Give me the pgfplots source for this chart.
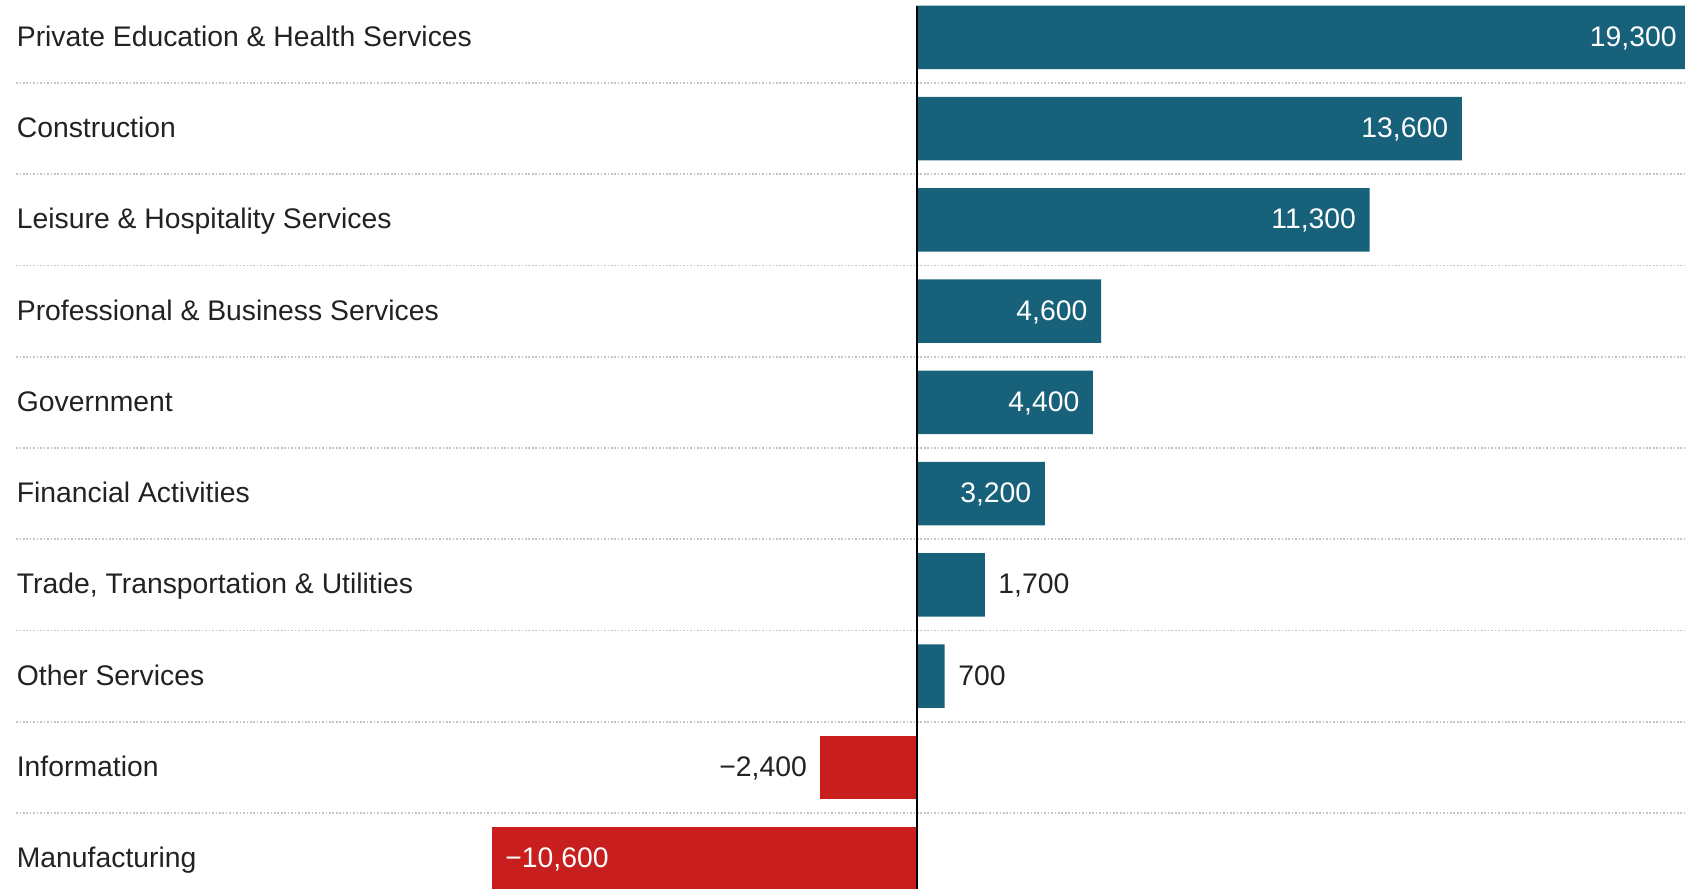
\documentclass[border=0pt]{standalone}
\usepackage{fontspec}
\setmainfont{Liberation Sans}
\usepackage{pgfplots}
\pgfplotsset{compat=1.18}
\usepackage{xcolor}

\definecolor{barblue}{RGB}{24,97,122}
\definecolor{barred}{RGB}{200,30,30}
\definecolor{txt}{RGB}{34,34,34}
\definecolor{sep}{RGB}{195,195,195}

\begin{document}
\begin{tikzpicture}
\useasboundingbox (-1.5mm,0) rectangle (155.3mm,82.7mm);
\begin{axis}[
    at={(0,0)}, anchor=south west,
    scale only axis,
    width=155.3mm, height=82.7mm,
    xmin=-22466, xmax=19170,
    ymin=-0.41, ymax=9.33,
    y dir=reverse,
    xbar, bar width=5.9mm, bar shift=0pt,
    axis line style={draw=none},
    tick style={draw=none},
    major tick length=0pt, minor tick length=0pt,
    xtick=\empty,
    ytick={0,...,9},
    yticklabels={Private Education \& Health Services, Construction,
        Leisure \& Hospitality Services, Professional \& Business Services,
        Government, Financial Activities, {Trade, Transportation \& Utilities},
        Other Services, Information, Manufacturing},
    yticklabel style={anchor=base west, yshift=-2.4pt, inner sep=0pt,
        font=\fontsize{7.5}{9}\selectfont, text=txt},
    minor ytick={0.5,1.5,...,8.5},
    yminorgrids=true,
    minor grid style={sep, line width=0.17mm, dash pattern=on 0.15mm off 0.17mm},
    point meta=explicit symbolic,
    nodes near coords,
    every node near coord/.append style={inner sep=0pt, yshift=-2.4pt,
        font=\fontsize{7.5}{9}\selectfont},
    clip=false,
]
% positive, label inside
\addplot[fill=barblue, draw=none,
    every node near coord/.append style={anchor=base east, xshift=-1.2mm, text=white}]
    coordinates {(19300,0) [{19,300}] (13600,1) [{13,600}] (11300,2) [{11,300}]
                 (4600,3) [{4,600}] (4400,4) [{4,400}] (3200,5) [{3,200}]};
% positive, label outside
\addplot[fill=barblue, draw=none,
    every node near coord/.append style={anchor=base west, xshift=1.2mm, text=txt}]
    coordinates {(1700,6) [{1,700}] (700,7) [{700}]};
% negative, label outside
\addplot[fill=barred, draw=none,
    every node near coord/.append style={anchor=base east, xshift=-1.2mm, text=txt}]
    coordinates {(-2400,8) [{−2,400}]};
% negative, label inside
\addplot[fill=barred, draw=none,
    every node near coord/.append style={anchor=base west, xshift=1.2mm, text=white}]
    coordinates {(-10600,9) [{−10,600}]};
\draw[black, line width=0.2mm] (axis cs:0,-0.347) -- (axis cs:0,9.33);
\end{axis}
\end{tikzpicture}
\end{document}
